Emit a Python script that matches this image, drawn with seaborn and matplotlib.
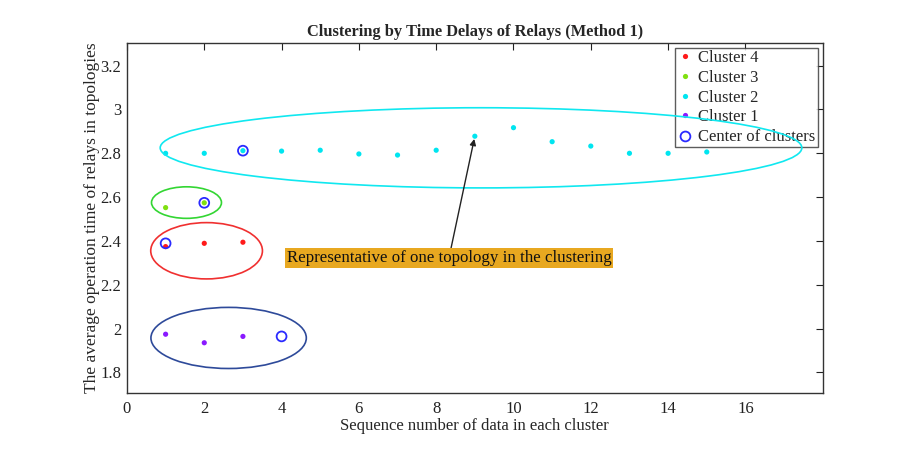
import matplotlib
matplotlib.use("Agg")
import matplotlib.pyplot as plt
from matplotlib.patches import Ellipse
import seaborn as sns
import pandas as pd

# Average relay operation time per topology, grouped by cluster
c1_x = [1, 2, 3]
c1_y = [1.974, 1.935, 1.964]
c2_x = list(range(1, 16))
c2_y = [2.800, 2.800, 2.812, 2.810, 2.814, 2.797, 2.792, 2.814,
        2.878, 2.917, 2.853, 2.833, 2.800, 2.800, 2.806]
c3_x = [1, 2]
c3_y = [2.552, 2.574]
c4_x = [1, 2, 3]
c4_y = [2.374, 2.389, 2.394]

# Cluster centres
center_x = [3, 2, 1, 4]
center_y = [2.812, 2.574, 2.389, 1.964]

cluster_names = ["Cluster 4", "Cluster 3", "Cluster 2", "Cluster 1"]
cluster_colors = ["#ff1a1a", "#80e010", "#00e5f0", "#8a1aff"]

x_ticks = [0, 2, 4, 6, 8, 10, 12, 14, 16]
y_ticks = [1.8, 2.0, 2.2, 2.4, 2.6, 2.8, 3.0, 3.2]
y_tick_labels = ["1.8", "2", "2.2", "2.4", "2.6", "2.8", "3", "3.2"]

sns.set_theme(style="white")
plt.rcParams["font.family"] = ["Liberation Serif", "DejaVu Serif"]

frames = []
for name, xs, ys in [("Cluster 4", c4_x, c4_y), ("Cluster 3", c3_x, c3_y),
                     ("Cluster 2", c2_x, c2_y), ("Cluster 1", c1_x, c1_y)]:
    frames.append(pd.DataFrame({"seq": xs, "time": ys, "cluster": name}))
df = pd.concat(frames, ignore_index=True)
centers = pd.DataFrame({"seq": center_x, "time": center_y})

fig = plt.figure(figsize=(9.18, 4.62), dpi=100)
ax = fig.add_axes([0.1383, 0.150, 0.7579, 0.7576])

sns.scatterplot(data=df, x="seq", y="time", hue="cluster",
                hue_order=cluster_names, palette=cluster_colors,
                s=14, linewidth=0, ax=ax, zorder=3)
sns.scatterplot(data=centers, x="seq", y="time", s=50, marker="o",
                facecolors="none", edgecolor="#2a2aff", linewidth=1.3,
                ax=ax, zorder=4, label="Center of clusters")

# Ellipses outlining each cluster (drawn over the legend box)
ellipses = [
    ((9.16, 2.825), 16.6, 0.366, "#10e8f0"),
    ((1.54, 2.575), 1.81, 0.144, "#33d633"),
    ((2.06, 2.355), 2.89, 0.257, "#f03030"),
    ((2.63, 1.957), 4.02, 0.279, "#2e4a9a"),
]
for (cx, cy), w, h, col in ellipses:
    ax.add_patch(Ellipse((cx, cy), w, h, fill=False, edgecolor=col,
                         linewidth=1.2, zorder=7))

ax.annotate("Representative of one topology in the clustering",
            xy=(c2_x[8], c2_y[8]), xytext=(8.33, 2.322),
            ha="center", va="center", fontsize=12.2, color="#111111",
            bbox=dict(boxstyle="square,pad=0.12", facecolor="#e8a820",
                      edgecolor="none"),
            arrowprops=dict(arrowstyle="-|>", color="#222222", lw=1.0,
                            mutation_scale=9, shrinkA=0, shrinkB=2),
            zorder=8)

ax.set_xlim(0, 18)
ax.set_ylim(1.707, 3.305)
ax.set_xticks(x_ticks)
ax.set_xticklabels([str(t) for t in x_ticks])
ax.set_yticks(y_ticks)
ax.set_yticklabels(y_tick_labels)
ax.tick_params(direction="in", length=5, width=0.8, top=True, right=True,
               labelsize=12, colors="#222222")
ax.tick_params(axis="y", pad=4)
ax.tick_params(axis="x", pad=6)
for s in ax.spines.values():
    s.set_color("#333333")
    s.set_linewidth(1.0)

ax.set_title("Clustering by Time Delays of Relays (Method 1)",
             fontsize=11.8, fontweight="bold", pad=5)
ax.set_xlabel("Sequence number of data in each cluster", fontsize=12,
              labelpad=1)
ax.set_ylabel("The average operation time of relays in topologies",
              fontsize=12.5, labelpad=0)

handles, labels = ax.get_legend_handles_labels()
leg = ax.legend(handles, labels, loc="upper right", fontsize=12,
                frameon=True, fancybox=False, edgecolor="#333333",
                borderpad=0.15, labelspacing=0.22, handletextpad=0.25,
                handlelength=1.0, borderaxespad=0.3, markerscale=1.0)
leg.get_frame().set_linewidth(1.0)
leg.set_zorder(6)

fig.savefig("out.png", dpi=100, facecolor="white")
